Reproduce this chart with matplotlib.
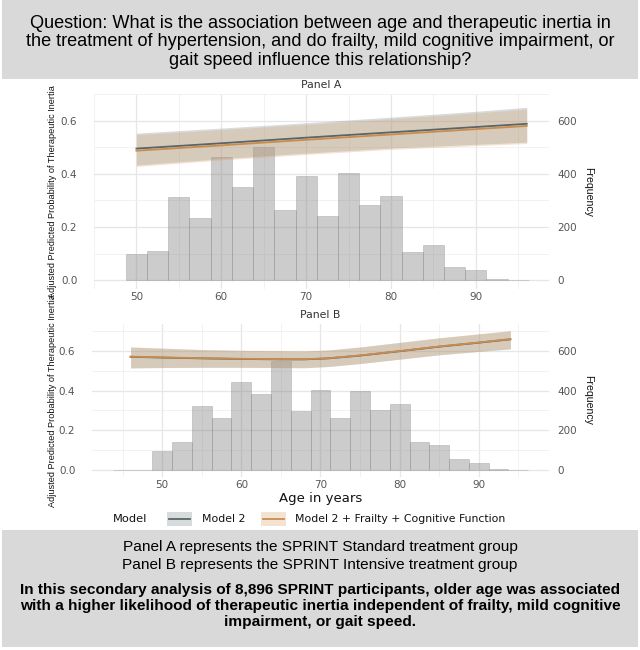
import numpy as np
import matplotlib
matplotlib.use("Agg")
import matplotlib.pyplot as plt
from matplotlib.patches import Rectangle
from matplotlib.lines import Line2D
from matplotlib import font_manager

# ---------------- data ----------------
# Panel A (Standard treatment) histogram: bins of 2.5 years starting at 48.75
hist_a_start = 48.75
hist_a_freq = [100, 109, 312, 235, 463, 349, 500, 266, 393, 240, 404, 282, 315, 105, 133, 51, 40, 6, 2]
# Panel B (Intensive treatment) histogram: bins of 2.5 years starting at 43.75
hist_b_start = 43.75
hist_b_freq = [1, 0, 94, 139, 323, 260, 442, 385, 550, 299, 403, 264, 397, 303, 331, 143, 124, 57, 35, 5, 2]
bin_width = 2.5

# Panel A predicted probabilities
age_a = [50, 60, 70, 80, 90, 96]
a_m2 = [0.495, 0.515, 0.536, 0.556, 0.576, 0.588]
a_m2_lo = [0.433, 0.457, 0.478, 0.497, 0.511, 0.519]
a_m2_hi = [0.553, 0.572, 0.592, 0.613, 0.635, 0.650]
a_fc = [0.487, 0.507, 0.528, 0.548, 0.568, 0.580]
a_fc_lo = [0.428, 0.452, 0.473, 0.492, 0.506, 0.514]
a_fc_hi = [0.547, 0.566, 0.586, 0.607, 0.629, 0.643]

# Panel B predicted probabilities
age_b = [46, 50, 55, 60, 65, 68, 71, 75, 80, 85, 90, 94]
b_m2 = [0.570, 0.566, 0.562, 0.559, 0.557, 0.557, 0.562, 0.576, 0.598, 0.621, 0.641, 0.658]
b_m2_lo = [0.514, 0.516, 0.517, 0.517, 0.516, 0.515, 0.521, 0.536, 0.558, 0.580, 0.597, 0.610]
b_m2_hi = [0.619, 0.613, 0.606, 0.602, 0.600, 0.599, 0.604, 0.619, 0.642, 0.665, 0.685, 0.701]
b_fc = [0.571, 0.567, 0.563, 0.560, 0.558, 0.558, 0.563, 0.577, 0.599, 0.622, 0.642, 0.659]
b_fc_lo = [0.514, 0.516, 0.517, 0.517, 0.516, 0.515, 0.521, 0.536, 0.558, 0.580, 0.597, 0.610]
b_fc_hi = [0.620, 0.614, 0.607, 0.603, 0.601, 0.600, 0.605, 0.620, 0.643, 0.666, 0.686, 0.702]

xticks = [50, 60, 70, 80, 90]
yticks = [0.0, 0.2, 0.4, 0.6]
freq_scale = 1000  # secondary axis: Frequency = probability * 1000

question = ("Question: What is the association between age and therapeutic inertia in\n"
            "the treatment of hypertension, and do frailty, mild cognitive impairment, or\n"
            "gait speed influence this relationship?")
panel_notes = ["Panel A represents the SPRINT Standard treatment group",
               "Panel B represents the SPRINT Intensive treatment group"]
conclusion = ("In this secondary analysis of 8,896 SPRINT participants, older age was associated\n"
              "with a higher likelihood of therapeutic inertia independent of frailty, mild cognitive\n"
              "impairment, or gait speed.")
ylab = "Adjusted Predicted Probability of Therapeutic Inertia"
legend_labels = ["Model 2", "Model 2 + Frailty + Cognitive Function"]

# ---------------- style ----------------
W, H = 640, 650
GRAY_LINE = "#5b6466"
ORANGE_LINE = "#c98c4f"
GRAY_RIB = "#7a8a8c"
ORANGE_RIB = "#d9a36f"
RIB_ALPHA = 0.3
BOX = "#d9d9d9"
TICK_COL = "#555555"

def has_font(name):
    try:
        font_manager.findfont(font_manager.FontProperties(family=name), fallback_to_default=False)
        return True
    except Exception:
        return False

narrow = "Liberation Sans Narrow" if has_font("Liberation Sans Narrow") else None

fig = plt.figure(figsize=(W / 100, H / 100), dpi=100)

def px_rect(l, t, r, b):
    return [l / W, 1 - b / H, (r - l) / W, (b - t) / H]

# background boxes
fig.patches.append(Rectangle((2 / W, 1 - 79 / H), 636 / W, 79 / H, transform=fig.transFigure,
                             facecolor=BOX, edgecolor="none", zorder=0))
fig.patches.append(Rectangle((2 / W, 1 - 647 / H), 636 / W, (647 - 530) / H, transform=fig.transFigure,
                             facecolor=BOX, edgecolor="none", zorder=0))

fig.text(0.5, 1 - 42 / H, question, ha="center", va="center", fontsize=13.1,
         family="Liberation Sans", linespacing=1.1)
fig.text(0.5, 1 - 547 / H, panel_notes[0], ha="center", va="center", fontsize=11.1, family="Liberation Sans")
fig.text(0.5, 1 - 565 / H, panel_notes[1], ha="center", va="center", fontsize=11.1, family="Liberation Sans")
fig.text(0.5, 1 - 606 / H, conclusion, ha="center", va="center", fontsize=11.05,
         family="Liberation Sans", weight="bold", linespacing=1.2)


def draw_panel(rect, title, start, freq, ages, m2, m2_lo, m2_hi, fc, fc_lo, fc_hi, show_xlabel):
    ax = fig.add_axes(rect)
    edges = start + bin_width * np.arange(len(freq) + 1)
    probs = np.array(freq) / freq_scale
    ax.bar(edges[:-1], probs, width=bin_width, align="edge",
           facecolor=(0.5, 0.5, 0.5, 0.4), edgecolor=(0.5, 0.5, 0.5, 0.35), linewidth=0.6, zorder=2)
    ax.fill_between(ages, m2_lo, m2_hi, color=GRAY_RIB, alpha=RIB_ALPHA, linewidth=0, zorder=3)
    ax.fill_between(ages, fc_lo, fc_hi, color=ORANGE_RIB, alpha=RIB_ALPHA, linewidth=0, zorder=3)
    ax.plot(ages, m2, color=GRAY_LINE, lw=1.3, zorder=4)
    ax.plot(ages, fc, color=ORANGE_LINE, lw=1.3, zorder=5)

    xmin = min(edges[0], ages[0]); xmax = max(edges[-1], ages[-1])
    dx = (xmax - xmin) * 0.05
    ax.set_xlim(xmin - dx, xmax + dx)
    ymax = max(max(m2_hi), max(fc_hi), probs.max())
    dy = ymax * 0.05
    ax.set_ylim(-dy, ymax + dy)

    for s in ax.spines.values():
        s.set_visible(False)
    ax.set_xticks(xticks)
    ax.set_yticks(yticks)
    ax.set_xticks(np.arange(45, 100, 10), minor=True)
    ax.set_yticks([0.1, 0.3, 0.5, 0.7], minor=True)
    ax.grid(True, which="major", color="#e6e6e6", lw=0.9, zorder=0)
    ax.grid(True, which="minor", color="#f0f0f0", lw=0.6, zorder=0)
    ax.set_axisbelow(True)
    ax.tick_params(which="both", length=0)
    ax.tick_params(axis="y", pad=12, labelsize=7.5, labelcolor=TICK_COL)
    ax.tick_params(axis="x", pad=2.5, labelsize=7.5, labelcolor=TICK_COL)
    ax.set_yticklabels([f"{v:.1f}" for v in yticks])

    sec = ax.secondary_yaxis("right", functions=(lambda p: p * freq_scale, lambda f: f / freq_scale))
    sec.set_yticks([0, 200, 400, 600])
    sec.tick_params(length=0, pad=6, labelsize=7.5, labelcolor=TICK_COL)
    for s in sec.spines.values():
        s.set_visible(False)

    ax.set_title(title, fontsize=7.8, color="#333333", pad=4)
    if show_xlabel:
        ax.set_xlabel("Age in years", fontsize=9.5, labelpad=1, color="#111111")

    l, b, w, h = rect
    yc = b + h / 2
    fam = narrow if narrow else "Liberation Sans"
    fig.text(53 / W, yc, ylab, rotation=90, ha="center", va="center",
             fontsize=8.0 if narrow else 6.6, family=fam, color="#111111")
    fig.text(588 / W, yc, "Frequency", rotation=-90, ha="center", va="center",
             fontsize=8.6 if narrow else 7.6, family=fam, color="#111111")
    return ax


draw_panel(px_rect(94, 94, 549, 289), "Panel A", hist_a_start, hist_a_freq, age_a,
           a_m2, a_m2_lo, a_m2_hi, a_fc, a_fc_lo, a_fc_hi, False)
draw_panel(px_rect(92, 323.6, 549, 477), "Panel B", hist_b_start, hist_b_freq, age_b,
           b_m2, b_m2_lo, b_m2_hi, b_fc, b_fc_lo, b_fc_hi, True)

# legend (ggplot-style, bottom)
ly = 1 - 519 / H
fig.text(113 / W, ly, "Model", ha="left", va="center", fontsize=8.2, color="#111111")
keys = [(167, GRAY_RIB, GRAY_LINE, 202, legend_labels[0]),
        (261, ORANGE_RIB, ORANGE_LINE, 295, legend_labels[1])]
for kx, rib, line, tx, lab in keys:
    fig.patches.append(Rectangle((kx / W, 1 - 526 / H), 25 / W, 14 / H, transform=fig.transFigure,
                                 facecolor=rib, alpha=RIB_ALPHA, edgecolor="none"))
    fig.lines.append(Line2D([(kx + 2) / W, (kx + 23) / W], [ly, ly], transform=fig.transFigure,
                            color=line, lw=1.3))
    fig.text(tx / W, ly, lab, ha="left", va="center", fontsize=7.8, color="#111111")

fig.savefig("out.png", dpi=100)
